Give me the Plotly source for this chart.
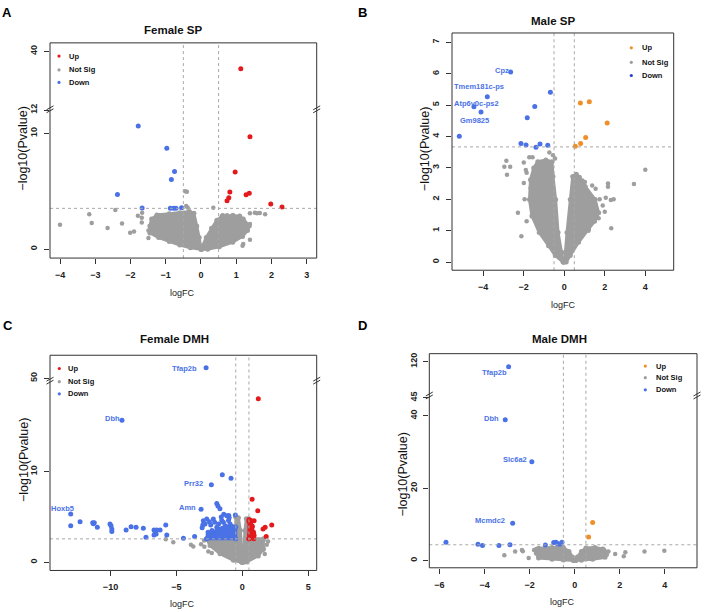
import numpy as np
import plotly.graph_objects as go

# ====================== DATA ======================
# ---- Panel A : Female SP ----
A_up = [(1.13, 38.5), (1.39, 9.69), (0.97, 6.65), (0.82, 4.92), (0.79, 4.43), (0.74, 4.18),
        (1.28, 4.69), (1.37, 4.83), (1.98, 3.90), (2.30, 3.64)]
A_down = [(-1.78, 10.63), (-0.97, 8.70), (-0.75, 6.70), (-0.84, 6.00), (-2.37, 4.71), (-1.67, 3.55),
          (-0.87, 3.53), (-0.78, 3.53), (-0.71, 3.53), (-0.55, 3.57)]
A_ns = [(-4.0, 2.1), (-3.17, 3.01), (-3.1, 2.25), (-2.65, 1.82), (-2.43, 3.38), (-2.24, 2.22),
        (-2.01, 1.42), (-1.9, 1.53), (-1.79, 2.87), (-1.67, 3.15), (-1.68, 2.7), (-1.68, 2.3),
        (-1.49, 1.6), (-1.49, 0.97), (-1.37, 2.5), (-1.19, 2.93), (-1.3, 1.9), (-1.1, 2.6),
        (-0.85, 2.7), (-0.68, 2.93), (-0.6, 2.93), (-0.45, 5.0), (-0.4, 4.95), (-0.42, 3.72),
        (-0.38, 3.6), (0.35, 3.58), (0.62, 2.93), (0.74, 2.93), (0.91, 2.93), (1.05, 2.3),
        (0.95, 1.9), (1.39, 3.1), (1.53, 3.15), (1.59, 3.1), (1.67, 3.12), (1.82, 3.0),
        (1.39, 2.17), (1.2, 1.75), (1.2, 0.45), (1.18, 0.3), (1.39, 0.8)]
A_core_left = [(0.0, 0.0), (-0.3, 0.12), (-0.6, 0.35), (-0.9, 0.65), (-1.2, 1.0), (-1.45, 1.4),
               (-1.45, 2.0), (-1.4, 2.6), (-1.25, 2.95), (-0.9, 3.05), (-0.6, 3.15), (-0.33, 3.25),
               (-0.2, 3.1), (-0.12, 2.0), (-0.05, 1.0)]
A_core_right = [(0.02, 0.0), (0.05, 0.3), (0.15, 1.0), (0.3, 1.8), (0.45, 2.5), (0.6, 2.85),
                (0.9, 2.9), (1.1, 2.85), (1.2, 2.6), (1.37, 2.0), (1.32, 1.6), (1.18, 1.1),
                (0.9, 0.6), (0.52, 0.2), (0.19, 0.0)]
A_thr = 3.52

# ---- Panel B : Male SP ----
B_up = [(0.55, 3.69), (0.81, 3.78), (1.06, 3.97), (1.24, 5.11), (0.80, 5.07), (2.12, 4.43)]
B_down = [(-5.17, 4.01), (-2.64, 6.06), (-3.79, 5.27), (-4.45, 4.95), (-4.10, 4.78), (-0.68, 5.41),
          (-1.45, 4.96), (-1.82, 4.60), (-2.13, 3.78), (-1.88, 3.73), (-1.39, 3.66), (-1.19, 3.76),
          (-0.81, 3.72)]
B_ns = [(-2.85, 3.23), (-2.95, 3.04), (-2.66, 3.04), (-2.82, 2.78), (-2.28, 1.57), (-2.11, 0.82),
        (-1.99, 3.17), (-1.72, 3.34), (-1.56, 3.34), (-1.89, 2.93), (-1.85, 2.85), (-0.73, 3.49),
        (-1.29, 3.15), (-1.08, 3.13), (-1.0, 2.96), (-1.99, 2.52), (-1.66, 2.36), (-1.95, 2.0),
        (-1.85, 1.3), (4.0, 2.94), (3.44, 2.49), (2.32, 1.08), (2.16, 2.5), (2.16, 2.4),
        (2.44, 2.0), (2.3, 1.98), (2.05, 2.05), (0.64, 2.65), (1.02, 2.55), (1.38, 2.44),
        (1.55, 2.34), (1.7, 1.4), (1.2, 1.0), (0.9, 2.6), (1.3, 2.1), (1.9, 1.8), (1.75, 2.0),
        (-0.6, 3.0), (-0.55, 3.4), (-0.45, 3.3), (1.45, 1.6), (2.0, 1.6)]
B_core_left = [(-0.05, 0.0), (-0.44, 0.21), (-0.77, 0.52), (-1.23, 0.94), (-1.59, 1.47),
               (-1.71, 1.99), (-1.66, 2.62), (-1.5, 3.0), (-1.3, 3.2), (-0.9, 3.25), (-0.6, 3.2),
               (-0.55, 2.73), (-0.42, 1.99), (-0.3, 0.94), (-0.13, 0.31)]
B_core_right = [(0.0, 0.0), (0.06, 0.31), (0.14, 0.94), (0.3, 1.99), (0.42, 2.73), (0.6, 2.8),
                (0.75, 2.7), (1.04, 2.41), (1.53, 1.99), (1.7, 1.57), (1.5, 1.3), (1.2, 1.05),
                (0.71, 0.63), (0.3, 0.21), (0.1, 0.0)]
B_thr = 3.67
B_labels = [("Cpz", -3.07, 6.11), ("Tmem181c-ps", -4.21, 5.58),
            ("Atp6v0c-ps2", -4.30, 5.06), ("Gm9825", -4.40, 4.51)]

# ---- Panel C : Female DMH ----
C_up = [(0.74, 6.95), (1.17, 5.67), (0.89, 4.58), (0.51, 4.5), (2.23, 4.11), (1.73, 3.86),
        (1.57, 3.67), (1.81, 2.84), (0.89, 2.95), (1.21, 18.04), (0.6, 4.3), (0.65, 3.5),
        (0.85, 3.3), (0.55, 3.0), (0.75, 4.0)]
C_down = [(-13.02, 5.31), (-13.02, 4.03), (-12.31, 4.47), (-11.35, 4.36), (-11.23, 4.36),
          (-11.3, 4.25), (-11.0, 3.86), (-10.04, 4.22), (-9.96, 4.03), (-9.9, 3.67), (-9.9, 3.38),
          (-8.82, 3.57), (-8.44, 3.93), (-8.06, 3.85), (-7.51, 3.75), (-7.31, 2.77), (-6.7, 3.57),
          (-6.62, 3.38), (-6.49, 3.57), (-6.24, 3.57), (-6.54, 3.13), (-6.7, 3.02), (-5.81, 4.11),
          (-5.73, 3.02), (-4.47, 2.66), (-3.62, 2.84), (-3.13, 5.86), (-2.96, 4.58), (-3.0, 4.1),
          (-3.05, 3.8), (-2.35, 8.55), (-1.52, 9.64), (-0.86, 9.27), (-1.94, 6.47), (-1.85, 6.2),
          (-1.7, 5.9), (-1.41, 5.3), (-1.03, 5.15), (-0.53, 5.2), (-2.83, 4.22), (-2.7, 4.76),
          (-2.5, 4.47), (-2.4, 4.11), (-2.2, 4.76), (-2.1, 4.4), (-1.94, 3.85), (-1.8, 4.22),
          (-1.69, 3.68), (-1.56, 4.6), (-1.44, 4.4), (-1.3, 4.04), (-1.18, 5.13), (-1.05, 4.6),
          (-0.93, 4.22), (-0.8, 3.85), (-0.68, 3.68), (-1.6, 5.0), (-2.3, 3.5), (-2.6, 3.3),
          (-1.0, 4.9), (-9.13, 15.67), (-2.75, 51.16)]
C_down_blob = [(-2.7, 2.58), (-0.5, 2.58), (-0.5, 3.9), (-0.75, 3.95), (-1.1, 3.85), (-1.5, 3.75),
               (-1.9, 3.55), (-2.3, 3.3), (-2.6, 3.0)]
C_up_blob = [(0.5, 2.6), (0.88, 2.6), (0.85, 3.2), (0.75, 3.9), (0.65, 4.6), (0.5, 4.7)]
C_ns = [(-5.81, 2.55), (-5.24, 2.22), (-3.9, 1.93), (-3.72, 1.75), (-2.9, 2.4), (-2.58, 1.2),
        (-2.32, 1.02), (-3.13, 2.0), (-2.88, 1.7), (1.6, 2.4), (1.6, 1.38), (1.85, 1.93),
        (1.95, 2.3), (1.7, 0.9)]
C_core_left = [(-0.05, 0.0), (-0.68, 0.22), (-1.69, 0.95), (-2.45, 1.85), (-2.7, 2.58),
               (-0.5, 2.58), (-0.5, 5.0), (-0.3, 4.9), (-0.15, 3.5), (-0.05, 1.5), (0.0, 0.5)]
C_core_right = [(0.05, 0.0), (0.1, 1.5), (0.2, 3.5), (0.3, 4.8), (0.5, 4.8), (0.5, 2.58),
                (1.6, 2.58), (1.6, 1.49), (1.21, 0.7), (0.33, 0.04)]
C_thr = 2.58
C_labels = [("Tfap2b", -4.42, 51.05), ("Dbh", -9.85, 15.86), ("Prr32", -3.72, 8.72),
            ("Amn", -4.14, 6.04), ("Hoxb5", -13.64, 5.93)]

# ---- Panel D : Male DMH ----
D_up = [(0.80, 10.5), (0.62, 6.5)]
D_down = [(-5.71, 5.1), (-4.29, 4.5), (-4.09, 4.2), (-3.36, 4.2), (-2.87, 4.4), (-1.3, 4.3),
          (-0.93, 5.0), (-0.83, 5.1), (-0.71, 4.6), (-0.56, 5.1), (-0.78, 4.75), (-0.64, 4.6),
          (-2.75, 10.3), (-1.9, 27.3), (-3.08, 38.9), (-2.93, 118.55)]
D_ns = [(-3.12, 1.45), (-2.64, 2.54), (-2.34, 2.9), (-2.3, 2.6), (-2.04, 0.74), (-1.8, 2.9),
        (1.43, 1.64), (1.8, 1.8), (2.25, 2.3), (2.18, 1.2), (3.1, 2.5), (3.98, 2.7),
        (-1.7, 3.2), (1.3, 3.0), (1.5, 2.5)]
D_core_left = [(-0.05, 0.0), (-0.5, 0.15), (-1.0, 0.35), (-1.6, 0.7), (-1.7, 2.0), (-1.6, 3.4),
               (-1.0, 3.6), (-0.5, 3.6), (-0.25, 2.5), (-0.1, 1.0)]
D_core_right = [(0.05, 0.0), (0.12, 1.0), (0.3, 2.5), (0.5, 3.5), (0.9, 3.6), (1.25, 3.2),
                (1.4, 2.4), (1.35, 0.9), (0.8, 0.35), (0.3, 0.1)]
D_thr = 4.37
D_labels = [("Tfap2b", -3.55, 117.0), ("Dbh", -3.67, 39.3), ("Slc6a2", -2.64, 27.8),
            ("Mcmdc2", -3.77, 11.0)]

FC_CUT = 0.5
LEGEND_TEXT = ["Up", "Not Sig", "Down"]

# ====================== STYLE ======================
W, H = 704, 612
FONT = "Liberation Sans, Arial, sans-serif"
GREY = "#9e9e9e"
RED = "#e3191c"
BLUE = "#4a72e6"
ORANGE = "#ef8f2a"
FRAME = "#333333"


def PX(x):
    return x / W


def PY(y):
    return 1 - y / H


fig = go.Figure()
layout = {}
shapes = []
annots = []
ycount = [0]


def yname(i):
    return "y" if i == 1 else f"y{i}"


def laykey(n):
    return n[0] + "axis" + n[1:]


def xy(pairs):
    a = np.array(pairs, dtype=float)
    return a[:, 0], a[:, 1]


def pline(x0, y0, x1, y1, color=FRAME, width=1):
    shapes.append(dict(type="line", xref="paper", yref="paper", x0=PX(x0), y0=PY(y0),
                       x1=PX(x1), y1=PY(y1), line=dict(color=color, width=width), layer="above"))


def panel(pi, box, segs, xrange, xticks, thr, up, down, ns, cores, up_color,
          blobs=(), labels=(), title="", title_pos=(0, 0), letter="", letter_pos=(0, 0),
          xlab_pos=(0, 0), ylab_pos=(0, 0), legend_pos=(0, 0, ()), legend_down=BLUE):
    xn = "x" if pi == 1 else f"x{pi}"
    L, R, T, B = box
    ynames = []
    for s in segs:
        ycount[0] += 1
        yn = yname(ycount[0])
        ynames.append(yn)
        layout[laykey(yn)] = dict(
            domain=[PY(s["b"]), PY(s["t"])], range=s["range"], anchor=xn,
            tickmode="array", tickvals=s["ticks"], tickangle=-90,
            showgrid=False, zeroline=False, showline=False, ticks="outside",
            ticklen=5, tickwidth=1, tickcolor=FRAME, ticklabelstandoff=3,
            tickfont=dict(family=FONT, size=9, color="#222", weight="bold"))
    layout[laykey(xn)] = dict(
        domain=[PX(L), PX(R)], range=xrange, anchor=ynames[0],
        tickmode="array", tickvals=xticks, showgrid=False, zeroline=False,
        showline=False, ticks="outside", ticklen=5, tickwidth=1, tickcolor=FRAME,
        ticklabelstandoff=3, tickfont=dict(family=FONT, size=9, color="#222", weight="bold"))

    lower_top = segs[0]["range"][1]

    def add_points(pairs, color, size=5):
        x, y = xy(pairs)
        m = y <= lower_top
        fig.add_trace(go.Scatter(x=x[m], y=y[m], xaxis=xn, yaxis=ynames[0], mode="markers",
                                 marker=dict(size=size, color=color, line=dict(width=0)),
                                 hoverinfo="skip"))
        if len(segs) > 1 and (~m).any():
            fig.add_trace(go.Scatter(x=x[~m], y=y[~m], xaxis=xn, yaxis=ynames[1], mode="markers",
                                     marker=dict(size=size, color=color, line=dict(width=0)),
                                     hoverinfo="skip"))

    def add_poly(pairs, color):
        x, y = xy(pairs)
        fig.add_trace(go.Scatter(x=np.append(x, x[0]), y=np.append(y, y[0]), xaxis=xn,
                                 yaxis=ynames[0], mode="lines+markers", fill="toself", fillcolor=color,
                                 line=dict(color=color, width=3),
                                 marker=dict(size=5, color=color, line=dict(width=0)),
                                 hoverinfo="skip"))

    for c in cores:
        add_poly(c, GREY)
    add_points(ns, GREY, 4.5)
    for b, col in blobs:
        if col == "down":
            add_poly(b, BLUE)
    add_points(down, BLUE)
    for b, col in blobs:
        if col == "up":
            add_poly(b, up_color)
    add_points(up, up_color)

    # threshold lines (drawn over the points, as abline in R)
    for v in (-FC_CUT, FC_CUT):
        shapes.append(dict(type="line", xref=xn, yref="paper", x0=v, x1=v, y0=PY(B), y1=PY(T),
                           line=dict(color="#a8a8a8", width=1, dash="dot"), layer="above"))
    shapes.append(dict(type="line", xref=f"{xn} domain", yref=ynames[0], x0=0, x1=1, y0=thr, y1=thr,
                       line=dict(color="#a8a8a8", width=1, dash="dot"), layer="above"))
    # frame
    pline(L, T, R, T)
    pline(L, B, R, B)
    pline(L, T, L, B)
    pline(R, T, R, B)
    # break marks
    if len(segs) > 1:
        yb = segs[0]["t"]
        for xe in (L, R):
            for dy in (0, 3):
                pline(xe - 3.5, yb + 1.5 + dy, xe + 3.5, yb - 2.5 + dy)
    # texts
    annots.append(dict(text=title, x=PX(title_pos[0]), y=PY(title_pos[1]), xref="paper", yref="paper",
                       showarrow=False, xanchor="center", yanchor="middle",
                       font=dict(family=FONT, size=11.5, color="#111", weight="bold")))
    annots.append(dict(text=letter, x=PX(letter_pos[0]), y=PY(letter_pos[1]), xref="paper", yref="paper",
                       showarrow=False, xanchor="center", yanchor="middle",
                       font=dict(family=FONT, size=13, color="#000", weight="bold")))
    annots.append(dict(text="logFC", x=PX(xlab_pos[0]), y=PY(xlab_pos[1]), xref="paper", yref="paper",
                       showarrow=False, xanchor="center", yanchor="middle",
                       font=dict(family=FONT, size=9, color="#222")))
    annots.append(dict(text="\u2212log10(Pvalue)", x=PX(ylab_pos[0]), y=PY(ylab_pos[1]), xref="paper",
                       yref="paper", showarrow=False, xanchor="center", yanchor="middle",
                       textangle=-90, font=dict(family=FONT, size=12.5, color="#111")))
    for (txt, lx, ly) in labels:
        yr = ynames[0] if ly <= lower_top else ynames[1]
        annots.append(dict(text=txt, x=lx, y=ly, xref=xn, yref=yr, showarrow=False,
                           xanchor="center", yanchor="middle",
                           font=dict(family=FONT, size=7.5, color=BLUE, weight="bold")))
    # legend
    mx, tx, rows = legend_pos
    cols = [up_color, GREY, legend_down]
    for txt, ry, col in zip(LEGEND_TEXT, rows, cols):
        r = 1.6
        shapes.append(dict(type="circle", xref="paper", yref="paper", x0=PX(mx - r), x1=PX(mx + r),
                           y0=PY(ry + r), y1=PY(ry - r), fillcolor=col, line=dict(width=0)))
        annots.append(dict(text=txt, x=PX(tx), y=PY(ry), xref="paper", yref="paper", showarrow=False,
                           xanchor="left", yanchor="middle",
                           font=dict(family=FONT, size=7.5, color="#111", weight="bold")))


# Panel A
panel(1, (50, 316.7, 38.3, 256),
      [dict(b=256, t=104.5, range=[-0.77, 12.15], ticks=[0, 10, 12]),
       dict(b=104.5, t=38.3, range=[35.1, 40.74], ticks=[40])],
      [-4.284, 3.284], [-4, -3, -2, -1, 0, 1, 2, 3], A_thr, A_up, A_down, A_ns,
      [A_core_left, A_core_right], RED,
      title="Female SP", title_pos=(173, 25.3), letter="A", letter_pos=(7.5, 8),
      xlab_pos=(182, 291), ylab_pos=(23.3, 145), legend_pos=(59, 67, (51.7, 65.7, 78.3)))

# Panel B
panel(2, (452, 673.7, 28.3, 268.3),
      [dict(b=268.3, t=28.3, range=[-0.26, 7.30], ticks=[0, 1, 2, 3, 4, 5, 6, 7])],
      [-5.53, 5.40], [-4, -2, 0, 2, 4], B_thr, B_up, B_down, B_ns,
      [B_core_left, B_core_right], ORANGE, labels=B_labels,
      title="Male SP", title_pos=(552.8, 16.2), letter="B", letter_pos=(362, 8),
      xlab_pos=(563, 303), ylab_pos=(425, 145.8), legend_pos=(631.3, 640.3, (43.3, 58, 71.3)),
      legend_down="#2443c8")

# Panel C
panel(3, (50, 316.7, 354.3, 572),
      [dict(b=572, t=379, range=[-0.905, 20.14], ticks=[0, 10]),
       dict(b=379, t=354.3, range=[49.85, 52.54], ticks=[50])],
      [-14.59, 5.64], [-10, -5, 0, 5], C_thr, C_up, C_down, C_ns,
      [C_core_left, C_core_right], RED,
      blobs=[(C_down_blob, "down"), (C_up_blob, "up")], labels=C_labels,
      title="Female DMH", title_pos=(174.3, 337.7), letter="C", letter_pos=(7.7, 324),
      xlab_pos=(182, 606), ylab_pos=(23.3, 460), legend_pos=(59.3, 66, (367.7, 381, 393.3)))

# Panel D
panel(4, (429.3, 697, 352.7, 569.3),
      [dict(b=569.3, t=394, range=[-1.99, 45.9], ticks=[0, 20, 40, 45]),
       dict(b=394, t=352.7, range=[110.9, 122.18], ticks=[120])],
      [-6.45, 5.43], [-6, -4, -2, 0, 2, 4], D_thr, D_up, D_down, D_ns,
      [D_core_left, D_core_right], ORANGE, labels=D_labels,
      title="Male DMH", title_pos=(559, 337.7), letter="D", letter_pos=(362, 324),
      xlab_pos=(562.7, 603.7), ylab_pos=(403, 475), legend_pos=(645.3, 653.7, (365.3, 377, 389.3)))

fig.update_layout(width=W, height=H, margin=dict(l=0, r=0, t=0, b=0), showlegend=False,
                  plot_bgcolor="white", paper_bgcolor="white", shapes=shapes, annotations=annots,
                  **layout)
fig.write_html("out.html", config={"displayModeBar": False},
               post_script="document.body.style.margin='0px';document.body.style.padding='0px';"
                           "document.body.style.overflow='hidden';")
